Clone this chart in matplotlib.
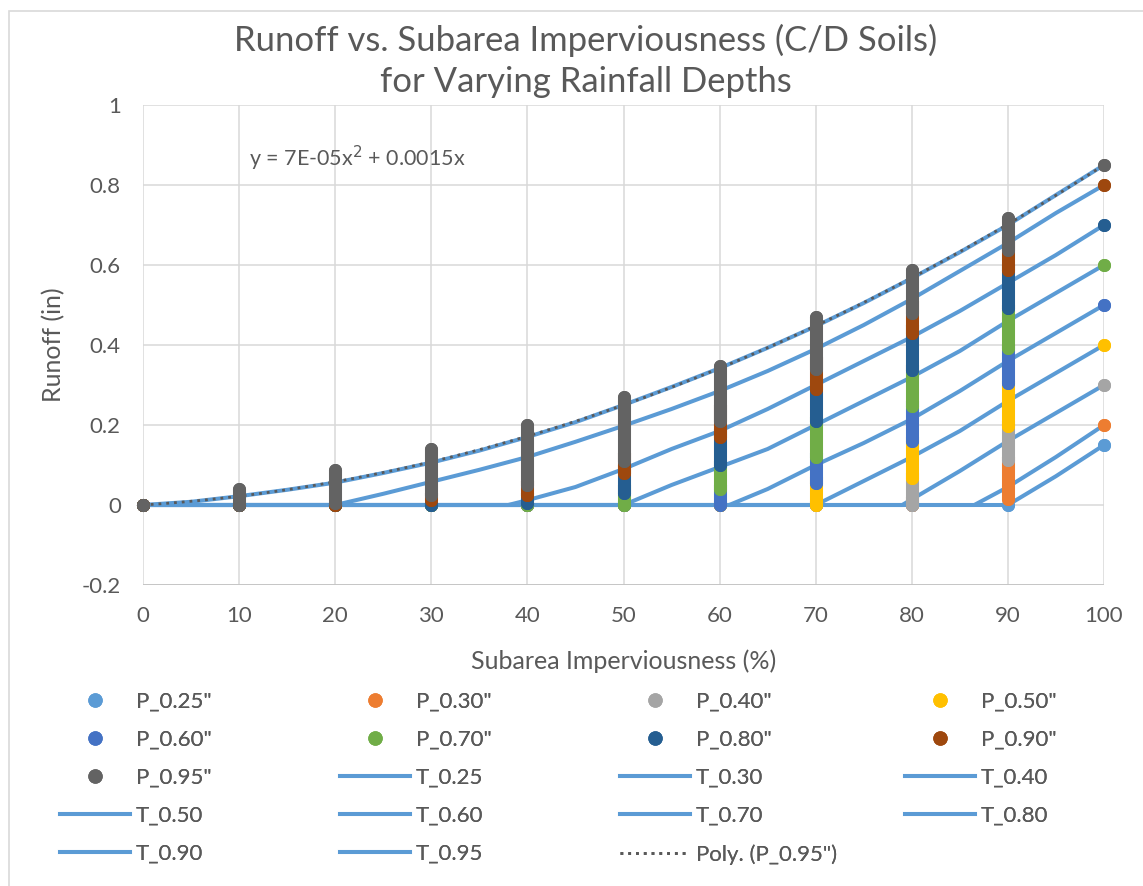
import matplotlib
matplotlib.use("Agg")
import matplotlib.pyplot as plt
from matplotlib.lines import Line2D
from matplotlib.patches import Rectangle
import numpy as np

plt.rcParams['font.family'] = ['Lato', 'DejaVu Sans']

# ---------------- data ----------------
x_imp = [0, 10, 20, 30, 40, 50, 60, 70, 80, 90, 100]

# observed runoff at each imperviousness: lowest / highest point of each vertical stack
p025_lo = [0, 0, 0, 0, 0, 0, 0, 0, 0, 0, 0.15]
p025_hi = [0, 0, 0, 0, 0, 0, 0, 0, 0, 0, 0.15]
p030_lo = [0, 0, 0, 0, 0, 0, 0, 0, 0, 0.015, 0.20]
p030_hi = [0, 0, 0, 0, 0, 0, 0, 0, 0.02, 0.12, 0.20]
p040_lo = [0, 0, 0, 0, 0, 0, 0, 0, 0, 0.1125, 0.30]
p040_hi = [0, 0, 0, 0, 0, 0, 0, 0.01, 0.08, 0.21, 0.30]
p050_lo = [0, 0, 0, 0, 0, 0, 0, 0, 0.0675, 0.1975, 0.40]
p050_hi = [0, 0, 0, 0, 0, 0, 0.01, 0.07, 0.17, 0.31, 0.40]
p060_lo = [0, 0, 0, 0, 0, 0, 0, 0.055, 0.16, 0.305, 0.50]
p060_hi = [0, 0, 0, 0, 0, 0.01, 0.05, 0.13, 0.26, 0.40, 0.50]
p070_lo = [0, 0, 0, 0, 0, 0, 0.04, 0.12, 0.2475, 0.3925, 0.60]
p070_hi = [0, 0, 0, 0, 0.005, 0.05, 0.11, 0.22, 0.35, 0.50, 0.60]
p080_lo = [0, 0, 0, 0, 0.005, 0.03, 0.10, 0.21, 0.3375, 0.4925, 0.70]
p080_hi = [0, 0, 0, 0.005, 0.03, 0.10, 0.19, 0.31, 0.45, 0.60, 0.70]
p090_lo = [0, 0, 0, 0.0125, 0.025, 0.08, 0.17, 0.29, 0.43, 0.5875, 0.80]
p090_hi = [0, 0, 0.005, 0.03, 0.06, 0.13, 0.25, 0.37, 0.51, 0.67, 0.80]
p095_lo = [0, 0, 0.005, 0.025, 0.05, 0.11, 0.21, 0.34, 0.48, 0.6375, 0.85]
p095_hi = [0, 0.04, 0.0875, 0.14, 0.20, 0.27, 0.3475, 0.47, 0.5875, 0.7175, 0.85]

p_labels = ['P_0.25"', 'P_0.30"', 'P_0.40"', 'P_0.50"', 'P_0.60"',
            'P_0.70"', 'P_0.80"', 'P_0.90"', 'P_0.95"']
p_colors = ['#5B9BD5', '#ED7D31', '#A5A5A5', '#FFC000', '#4472C4',
            '#70AD47', '#255E91', '#9E480E', '#636363']
p_lo = [p025_lo, p030_lo, p040_lo, p050_lo, p060_lo, p070_lo, p080_lo, p090_lo, p095_lo]
p_hi = [p025_hi, p030_hi, p040_hi, p050_hi, p060_hi, p070_hi, p080_hi, p090_hi, p095_hi]

# theoretical curves
t025_x = [0, 90, 95, 100]
t025_y = [0, 0, 0.072, 0.15]
t030_x = [0, 86.5, 90, 95, 100]
t030_y = [0, 0, 0.045, 0.12, 0.20]
t040_x = [0, 79, 85, 90, 95, 100]
t040_y = [0, 0, 0.085, 0.16, 0.23, 0.30]
t050_x = [0, 70, 75, 80, 85, 90, 95, 100]
t050_y = [0, 0, 0.06, 0.12, 0.185, 0.26, 0.33, 0.40]
t060_x = [0, 61, 65, 70, 75, 80, 85, 90, 95, 100]
t060_y = [0, 0, 0.04, 0.10, 0.155, 0.215, 0.285, 0.36, 0.43, 0.50]
t070_x = [0, 50, 55, 60, 65, 70, 75, 80, 85, 90, 95, 100]
t070_y = [0, 0, 0.05, 0.095, 0.14, 0.20, 0.26, 0.32, 0.385, 0.46, 0.53, 0.60]
t080_x = [0, 38, 40, 45, 50, 55, 60, 65, 70, 75, 80, 85, 90, 95, 100]
t080_y = [0, 0, 0.012, 0.045, 0.09, 0.14, 0.185, 0.24, 0.30, 0.36, 0.42, 0.485, 0.555, 0.625, 0.70]
t090_x = [0, 20, 25, 30, 35, 40, 45, 50, 55, 60, 65, 70, 75, 80, 85, 90, 95, 100]
t090_y = [0, 0, 0.028, 0.058, 0.088, 0.12, 0.158, 0.198, 0.24, 0.285, 0.335, 0.39,
          0.45, 0.515, 0.585, 0.655, 0.73, 0.80]
t095_x = [0, 5, 10, 15, 20, 25, 30, 35, 40, 45, 50, 55, 60, 65, 70, 75, 80, 85, 90, 95, 100]
t095_y = [0, 0.008, 0.022, 0.038, 0.056, 0.08, 0.106, 0.136, 0.17, 0.207, 0.25, 0.295,
          0.342, 0.393, 0.447, 0.505, 0.567, 0.632, 0.70, 0.775, 0.85]

t_labels = ['T_0.25', 'T_0.30', 'T_0.40', 'T_0.50', 'T_0.60', 'T_0.70', 'T_0.80', 'T_0.90', 'T_0.95']
t_xs = [t025_x, t030_x, t040_x, t050_x, t060_x, t070_x, t080_x, t090_x, t095_x]
t_ys = [t025_y, t030_y, t040_y, t050_y, t060_y, t070_y, t080_y, t090_y, t095_y]

# trendline equation shown on chart: y = 7E-05x^2 + 0.0015x
poly_a = 7e-05
poly_b = 0.0015

x_ticks = [0, 10, 20, 30, 40, 50, 60, 70, 80, 90, 100]
y_ticks = [-0.2, 0, 0.2, 0.4, 0.6, 0.8, 1.0]
y_ticklabels = ['-0.2', '0', '0.2', '0.4', '0.6', '0.8', '1']

# ---------------- figure ----------------
W, H = 1143, 886
fig = plt.figure(figsize=(W / 100, H / 100), dpi=100)
ax = fig.add_axes([143 / W, 1 - 585 / H, (1104 - 143) / W, (585 - 105) / H])

txt = '#595959'
grid_c = '#D9D9D9'
line_c = '#5B9BD5'
ms = 9.4

for xt in x_ticks:
    ax.axvline(xt, color=grid_c, lw=1.1, zorder=0)
for yt in y_ticks:
    ax.axhline(yt, color=grid_c, lw=1.1, zorder=0)
ax.axhline(-0.2, color='#BFBFBF', lw=1.1, zorder=0.5)

for tx, ty in zip(t_xs, t_ys):
    ax.plot(tx, ty, color=line_c, lw=2.9, solid_capstyle='round', zorder=2)

xx = np.linspace(0, 100, 400)
ax.plot(xx, poly_a * xx ** 2 + poly_b * xx, color='#595959', lw=2.0,
        linestyle=(0, (1.0, 1.8)), zorder=2.5)

for i, (lo, hi, col) in enumerate(zip(p_lo, p_hi, p_colors)):
    z = 3 + i * 0.1
    for xv, a, b in zip(x_imp, lo, hi):
        ax.plot([xv, xv], [a, b], color=col, lw=ms, solid_capstyle='round',
                zorder=z, clip_on=False)
    ax.plot(x_imp, lo, 'o', color=col, ms=ms, mec=col, mew=0, zorder=z, clip_on=False)
    ax.plot(x_imp, hi, 'o', color=col, ms=ms, mec=col, mew=0, zorder=z, clip_on=False)

ax.set_xlim(0, 100)
ax.set_ylim(-0.2, 1.0)
ax.set_xticks(x_ticks)
ax.set_yticks(y_ticks)
ax.set_yticklabels(y_ticklabels)
ax.tick_params(length=0, labelsize=16, colors=txt)
ax.tick_params(axis='x', pad=15)
ax.tick_params(axis='y', pad=16)
for s in ax.spines.values():
    s.set_visible(False)

ax.set_xlabel('Subarea Imperviousness (%)', fontsize=18, color=txt, labelpad=17)
ax.set_ylabel('Runoff (in)', fontsize=18, color=txt, labelpad=12)

fig.text(586 / W, 1 - 40 / H, 'Runoff vs. Subarea Imperviousness (C/D Soils)',
         ha='center', va='center', fontsize=24.9, color=txt)
fig.text(586 / W, 1 - 82 / H, 'for Varying Rainfall Depths',
         ha='center', va='center', fontsize=24.9, color=txt)

fig.text(249 / W, 1 - 158 / H, 'y = 7E-05x$^2$ + 0.0015x',
         fontsize=15.5, color=txt, va='center', ha='left')

# ---------------- legend (4 uniform columns, row-wise order) ----------------
entries = []
for lab, col in zip(p_labels, p_colors):
    entries.append((Line2D([], [], linestyle='none', marker='o', ms=ms, color=col), lab))
for lab in t_labels:
    entries.append((Line2D([], [], color=line_c, lw=2.9), lab))
entries.append((Line2D([], [], color='#595959', lw=2.0, linestyle=(0, (1.0, 1.8))), 'Poly. (P_0.95")'))

col_x = [60, 340, 620, 905]
for c in range(4):
    items = [entries[c + 4 * r] for r in range(5) if c + 4 * r < len(entries)]
    leg = fig.legend([h for h, _ in items], [l for _, l in items],
                     loc='upper left', bbox_to_anchor=(col_x[c] / W, 1 - 692 / H),
                     frameon=False, fontsize=16, handlelength=3.15, handletextpad=0.27,
                     borderpad=0, borderaxespad=0, labelspacing=0.81, labelcolor=txt)
    fig.add_artist(leg)

fig.add_artist(Rectangle((9 / W, -0.1), 1.2, (1 - 11 / H) + 0.1, transform=fig.transFigure,
                         fill=False, ec='#D9D9D9', lw=1.2))

fig.savefig('out.png', dpi=100)
